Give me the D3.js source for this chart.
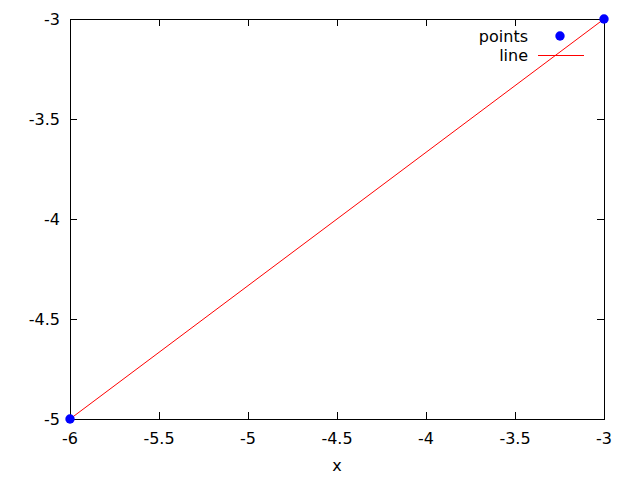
<!DOCTYPE html>
<html>
<head>
<meta charset="utf-8">
<script src="https://cdn.jsdelivr.net/npm/d3@7"></script>
<style>
body { margin: 0; background: #fff; }
text { font-family: "DejaVu Sans", sans-serif; font-size: 16px; fill: #000; }
</style>
</head>
<body>
<div class="chart"></div>
<script>
var xs = [-6, -3];
var ys = [-5, -3];
var xTicks = [-6, -5.5, -5, -4.5, -4, -3.5, -3];
var yTicks = [-5, -4.5, -4, -3.5, -3];
var seriesNames = ['points', 'line'];

var margin = {top: 19, right: 36, bottom: 61, left: 70},
    width = 640,
    height = 480,
    w = width - margin.left - margin.right,
    h = height - margin.top - margin.bottom;

var svg = d3.select('div.chart')
    .append('svg')
        .attr('width', width)
        .attr('height', height)
    .append('g')
        .attr('transform', 'translate(' + margin.left + ',' + margin.top + ')');

var x = d3.scaleLinear().domain([-6, -3]).range([0, w]);
var y = d3.scaleLinear().domain([-5, -3]).range([h, 0]);

var data = xs.map((d, i) => ({x: d, y: ys[i]}));

// ticks, inside and mirrored
var tickLen = 7;
var tk = svg.append('g').attr('stroke', '#000').attr('stroke-width', 1);
xTicks.forEach(function(t) {
    var px = Math.round(x(t)) + 0.5;
    tk.append('line').attr('x1', px).attr('x2', px).attr('y1', h).attr('y2', h - tickLen);
    tk.append('line').attr('x1', px).attr('x2', px).attr('y1', 0).attr('y2', tickLen);
});
yTicks.forEach(function(t) {
    var py = Math.round(y(t)) + 0.5;
    tk.append('line').attr('x1', 0).attr('x2', tickLen).attr('y1', py).attr('y2', py);
    tk.append('line').attr('x1', w).attr('x2', w - tickLen).attr('y1', py).attr('y2', py);
});

svg.selectAll('text.xt')
    .data(xTicks)
    .enter()
    .append('text')
        .attr('x', (d) => x(d))
        .attr('y', h + 25)
        .attr('text-anchor', 'middle')
        .text((d) => d);

svg.selectAll('text.yt')
    .data(yTicks)
    .enter()
    .append('text')
        .attr('x', -10)
        .attr('y', (d) => y(d) + 6)
        .attr('text-anchor', 'end')
        .text((d) => d);

svg.append('text')
    .attr('x', w / 2)
    .attr('y', h + 52)
    .attr('text-anchor', 'middle')
    .text('x');

// frame
svg.append('rect')
    .attr('x', 0.5).attr('y', 0.5)
    .attr('width', w).attr('height', h)
    .attr('fill', 'none')
    .attr('stroke', '#000');

var line = d3.line().x((d) => x(d.x)).y((d) => y(d.y));

svg.append('path')
    .datum(data)
    .attr('d', line)
    .attr('fill', 'none')
    .attr('stroke', '#ff0000')
    .attr('stroke-width', 1);

svg.selectAll('circle.pt')
    .data(data)
    .enter()
    .append('circle')
        .attr('cx', (d) => x(d.x))
        .attr('cy', (d) => y(d.y))
        .attr('r', 4.7)
        .attr('fill', '#0000ff');

// legend
var lg = svg.append('g');
lg.selectAll('text')
    .data(seriesNames)
    .enter()
    .append('text')
        .attr('x', 458)
        .attr('y', (d, i) => 23 + i * 19)
        .attr('text-anchor', 'end')
        .text((d) => d);
lg.append('circle')
    .attr('cx', 490).attr('cy', 17)
    .attr('r', 4.7)
    .attr('fill', '#0000ff');
lg.append('line')
    .attr('x1', 468).attr('x2', 514)
    .attr('y1', 36.5).attr('y2', 36.5)
    .attr('stroke', '#ff0000');
</script>
</body>
</html>
